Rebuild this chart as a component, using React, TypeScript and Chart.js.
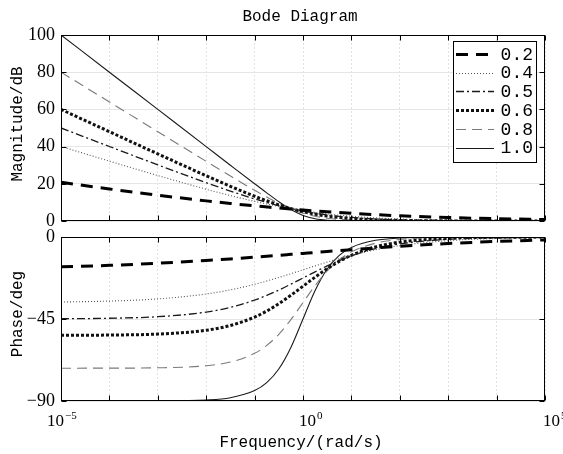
import React, { useEffect, useRef } from 'react';
import { Chart, registerables } from 'chart.js';

Chart.register(...registerables);

// ---- data ----
const frequencies = [1e-5, 1e-4, 1e-3, 1e-2, 0.0316, 0.1, 0.178, 0.316, 0.562, 1, 1.78, 3.16, 5.62, 10, 31.6, 100, 1e3, 1e4, 1e5];
const seriesLabels = ['0.2', '0.4', '0.5', '0.6', '0.8', '1.0'];

const magnitude02 = [20.79, 17.23, 13.88, 10.82, 9.43, 8.15, 7.55, 6.97, 6.43, 5.91, 5.43, 4.97, 4.55, 4.15, 3.43, 2.82, 1.88, 1.23, 0.79];
const magnitude04 = [40.07, 32.18, 24.44, 17.08, 13.67, 10.56, 9.14, 7.84, 6.65, 5.58, 4.65, 3.84, 3.14, 2.56, 1.67, 1.08, 0.44, 0.18, 0.07];
const magnitude05 = [50.02, 40.06, 30.19, 20.61, 16.08, 11.9, 9.99, 8.24, 6.69, 5.33, 4.19, 3.24, 2.49, 1.9, 1.08, 0.61, 0.19, 0.06, 0.02];
const magnitude06 = [60.0, 48.02, 36.08, 24.33, 18.66, 13.33, 10.88, 8.65, 6.68, 5.02, 3.68, 2.65, 1.88, 1.33, 0.66, 0.33, 0.08, 0.02, 0.01];
const magnitude08 = [80.0, 64.0, 48.01, 32.07, 24.18, 16.5, 12.86, 9.48, 6.52, 4.18, 2.52, 1.47, 0.86, 0.5, 0.18, 0.07, 0.01, 0, 0];
const magnitude10 = [100, 80, 60, 40, 30, 20.04, 15.13, 10.41, 6.19, 3.01, 1.19, 0.41, 0.14, 0.04, 0, 0, 0, 0, 0];

const phase02 = [-16.38, -15.56, -14.41, -12.9, -12.01, -11.05, -10.55, -10.04, -9.52, -9.0, -8.48, -7.96, -7.45, -6.95, -5.99, -5.1, -3.58, -2.43, -1.62];
const phase04 = [-35.67, -35.17, -33.98, -31.28, -29.0, -25.96, -24.16, -22.21, -20.14, -18.0, -15.86, -13.8, -11.84, -10.03, -6.99, -4.71, -2.02, -0.83, -0.33];
const phase05 = [-44.87, -44.6, -43.75, -41.22, -38.62, -34.64, -32.06, -29.12, -25.89, -22.5, -19.11, -15.87, -12.94, -10.35, -6.38, -3.78, -1.25, -0.4, -0.13];
const phase06 = [-53.95, -53.81, -53.27, -51.18, -48.58, -43.96, -40.64, -36.61, -31.98, -27.0, -22.02, -17.39, -13.36, -10.04, -5.42, -2.82, -0.73, -0.18, -0.05];
const phase08 = [-71.99, -71.97, -71.78, -70.64, -68.63, -63.83, -59.5, -53.38, -45.34, -36.0, -26.66, -18.63, -12.5, -8.16, -3.37, -1.36, -0.22, -0.04, -0.01];
const phase10 = [-90, -89.99, -89.94, -89.43, -88.19, -84.29, -79.92, -72.45, -60.64, -45.0, -29.36, -17.55, -10.08, -5.71, -1.81, -0.57, -0.06, -0.01, 0];

const magnitudeSeries = [magnitude02, magnitude04, magnitude05, magnitude06, magnitude08, magnitude10];
const phaseSeries = [phase02, phase04, phase05, phase06, phase08, phase10];

const magnitudeTicks = [0, 20, 40, 60, 80, 100];
const phaseTicks = [-90, -45, 0];
const decadeTicks = [1e-5, 1e-4, 1e-3, 1e-2, 1e-1, 1, 10, 100, 1e3, 1e4, 1e5];
const xLabelValues = [1e-5, 1, 1e5];
const xLabelExponents = ['\u22125', '0', '5'];

const chartTitle = 'Bode Diagram';
const magnitudeTitle = 'Magnitude/dB';
const phaseTitle = 'Phase/deg';
const frequencyTitle = 'Frequency/(rad/s)';

// ---- styles ----
const lineStyles = [
  { color: '#000000', width: 3, dash: [12, 8] },
  { color: '#555555', width: 1.1, dash: [1, 2] },
  { color: '#1a1a1a', width: 1.3, dash: [8, 3, 2, 3] },
  { color: '#111111', width: 3, dash: [3, 2] },
  { color: '#7a7a7a', width: 1.1, dash: [10, 6] },
  { color: '#1a1a1a', width: 1.1, dash: [] as number[] },
];

const MONO = '"Liberation Mono", "DejaVu Sans Mono", monospace';
const SERIF = '"Liberation Serif", "DejaVu Serif", serif';
const GRID_H = '#e6e6e6';
const GRID_V = '#e2e2e2';

function makeDatasets(series: number[][]) {
  return series.map((vals, i) => ({
    label: seriesLabels[i],
    data: frequencies.map((f, j) => ({ x: f, y: vals[j] })),
    borderColor: lineStyles[i].color,
    borderWidth: lineStyles[i].width,
    borderDash: lineStyles[i].dash,
    pointRadius: 0,
    fill: false,
    cubicInterpolationMode: 'monotone' as const,
  }));
}

function drawFrame(chart: any, yTicks: number[]) {
  const { ctx, chartArea: a, scales } = chart;
  ctx.save();
  ctx.strokeStyle = '#000';
  ctx.lineWidth = 1;
  ctx.setLineDash([]);
  const L = Math.round(a.left) + 0.5;
  const R = Math.round(a.right) - 0.5;
  const T = Math.round(a.top) + 0.5;
  const B = Math.round(a.bottom) - 0.5;
  ctx.strokeRect(L, T, R - L, B - T);
  ctx.beginPath();
  decadeTicks.forEach((v) => {
    const x = Math.round(scales.x.getPixelForValue(v)) + 0.5;
    ctx.moveTo(x, B);
    ctx.lineTo(x, B - 5);
    ctx.moveTo(x, T);
    ctx.lineTo(x, T + 5);
  });
  yTicks.forEach((v) => {
    const y = Math.round(scales.y.getPixelForValue(v)) + 0.5;
    ctx.moveTo(L, y);
    ctx.lineTo(L + 5, y);
    ctx.moveTo(R, y);
    ctx.lineTo(R - 5, y);
  });
  ctx.stroke();
  ctx.restore();
}

function drawVerticalTitle(ctx: CanvasRenderingContext2D, text: string, x: number, y: number) {
  ctx.save();
  ctx.translate(x, y);
  ctx.rotate(-Math.PI / 2);
  ctx.font = `16px ${MONO}`;
  ctx.fillStyle = '#000';
  ctx.textAlign = 'center';
  ctx.textBaseline = 'middle';
  ctx.fillText(text, 0, 0);
  ctx.restore();
}

const topPlugin = {
  id: 'topDecor',
  afterDraw(chart: any) {
    const { ctx, chartArea: a } = chart;
    drawFrame(chart, magnitudeTicks);
    ctx.save();
    ctx.fillStyle = '#000';
    ctx.font = `16px ${MONO}`;
    ctx.textAlign = 'center';
    ctx.textBaseline = 'middle';
    ctx.fillText(chartTitle, (a.left + a.right) / 2 - 3, 17);
    ctx.restore();
    drawVerticalTitle(ctx, magnitudeTitle, 18, (a.top + a.bottom) / 2 - 4);

    // legend
    const bx = a.right - 92;
    const by = a.top + 6;
    const bw = 83;
    const bh = 121;
    ctx.save();
    ctx.fillStyle = '#fff';
    ctx.fillRect(bx, by, bw, bh);
    ctx.strokeStyle = '#000';
    ctx.lineWidth = 1;
    ctx.setLineDash([]);
    ctx.strokeRect(Math.round(bx) + 0.5, Math.round(by) + 0.5, bw, bh);
    seriesLabels.forEach((lab, i) => {
      const y = by + 13 + i * 18.7;
      const st = lineStyles[i];
      ctx.beginPath();
      ctx.strokeStyle = st.color;
      ctx.lineWidth = st.width;
      ctx.setLineDash(st.dash);
      ctx.moveTo(bx + 3, Math.round(y) + 0.5);
      ctx.lineTo(bx + 41, Math.round(y) + 0.5);
      ctx.stroke();
      ctx.setLineDash([]);
      ctx.fillStyle = '#000';
      ctx.font = `18px ${MONO}`;
      ctx.textAlign = 'right';
      ctx.textBaseline = 'middle';
      ctx.fillText(lab, bx + bw - 3, y + 1);
    });
    ctx.restore();
  },
};

const labelOffsets = [-14, -4, -2];

const bottomPlugin = {
  id: 'bottomDecor',
  afterDraw(chart: any) {
    const { ctx, chartArea: a, scales } = chart;
    drawFrame(chart, phaseTicks);
    drawVerticalTitle(ctx, phaseTitle, 18, (a.top + a.bottom) / 2 - 5);
    ctx.save();
    ctx.fillStyle = '#000';
    xLabelValues.forEach((v, i) => {
      const px = scales.x.getPixelForValue(v) + labelOffsets[i];
      ctx.font = `17px ${SERIF}`;
      ctx.textAlign = 'left';
      ctx.textBaseline = 'alphabetic';
      ctx.fillText('10', px, a.bottom + 25);
      const w = ctx.measureText('10').width;
      ctx.font = `11px ${SERIF}`;
      ctx.fillText(xLabelExponents[i], px + w + 1, a.bottom + 18);
    });
    ctx.font = `16px ${MONO}`;
    ctx.textAlign = 'center';
    ctx.textBaseline = 'middle';
    ctx.fillText(frequencyTitle, (a.left + a.right) / 2 - 2, a.bottom + 42);
    ctx.restore();
  },
};

function xScale() {
  return {
    type: 'logarithmic' as const,
    min: 1e-5,
    max: 1e5,
    afterBuildTicks: (s: any) => {
      s.ticks = decadeTicks.map((v) => ({ value: v }));
    },
    ticks: { display: false },
    grid: { color: GRID_V, drawTicks: false },
    border: { display: false, dash: [2, 2] },
    afterFit: (s: any) => {
      s.height = 0;
      s.paddingLeft = 0;
      s.paddingRight = 0;
    },
  };
}

function yScale(min: number, max: number, ticks: number[]) {
  return {
    type: 'linear' as const,
    min,
    max,
    afterBuildTicks: (s: any) => {
      s.ticks = ticks.map((v) => ({ value: v }));
    },
    ticks: {
      padding: 6,
      color: '#000',
      font: { family: SERIF, size: 18 },
      callback: (v: any) => (Number(v) < 0 ? '\u2212' + Math.abs(Number(v)) : String(v)),
    },
    grid: { color: GRID_H, drawTicks: false },
    border: { display: false },
    afterFit: (s: any) => {
      s.width = 61;
      s.paddingTop = 0;
      s.paddingBottom = 0;
    },
  };
}

export default function App() {
  const topRef = useRef<HTMLCanvasElement>(null);
  const bottomRef = useRef<HTMLCanvasElement>(null);

  useEffect(() => {
    const top = new Chart(topRef.current as HTMLCanvasElement, {
      type: 'line',
      data: { datasets: makeDatasets(magnitudeSeries) as any },
      options: {
        animation: false,
        responsive: false,
        devicePixelRatio: 1,
        layout: { padding: { top: 35, bottom: 15, left: 0, right: 18 } },
        plugins: { legend: { display: false }, tooltip: { enabled: false }, title: { display: false } },
        scales: { x: xScale() as any, y: yScale(0, 100, magnitudeTicks) as any },
      },
      plugins: [topPlugin],
    });
    const bottom = new Chart(bottomRef.current as HTMLCanvasElement, {
      type: 'line',
      data: { datasets: makeDatasets(phaseSeries) as any },
      options: {
        animation: false,
        responsive: false,
        devicePixelRatio: 1,
        layout: { padding: { top: 9, bottom: 53, left: 0, right: 18 } },
        plugins: { legend: { display: false }, tooltip: { enabled: false }, title: { display: false } },
        scales: { x: xScale() as any, y: yScale(-90, 0, phaseTicks) as any },
      },
      plugins: [bottomPlugin],
    });
    return () => {
      top.destroy();
      bottom.destroy();
    };
  }, []);

  return (
    <div style={{ position: 'fixed', left: 0, top: 0, width: 563, height: 454, background: '#fff', overflow: 'hidden' }}>
      <canvas ref={topRef} width={563} height={236} style={{ position: 'absolute', left: 0, top: 0, display: 'block' }} />
      <canvas ref={bottomRef} width={563} height={226} style={{ position: 'absolute', left: 0, top: 228, display: 'block' }} />
    </div>
  );
}
